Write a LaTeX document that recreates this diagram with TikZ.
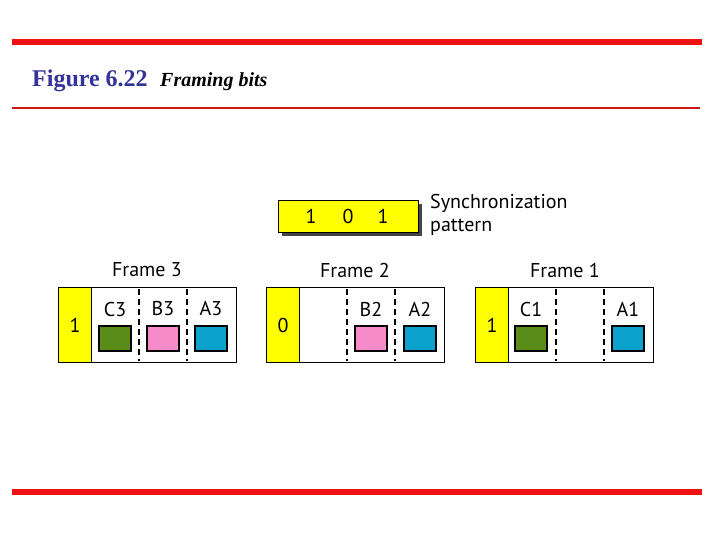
\documentclass[tikz,border=0pt]{standalone}
\usepackage{fontspec}
\setmainfont{Liberation Serif}
\newfontfamily\fbsans{PT Sans}
\usetikzlibrary{positioning}
\definecolor{fbred}{HTML}{EE1111}
\definecolor{fbdarkred}{HTML}{CC1A1A}
\definecolor{fbtitle}{HTML}{333399}
\definecolor{fbyellow}{HTML}{FFFF00}
\definecolor{fbgreen}{HTML}{5A8C1A}
\definecolor{fbpink}{HTML}{F78AC8}
\definecolor{fbblue}{HTML}{0BA2CE}
\definecolor{fbshadow}{HTML}{444444}
\tikzset{
  fbframe/.style={draw, line width=1.3pt, minimum width=178pt,
    minimum height=75pt, inner sep=0pt, anchor=north west},
  fbflag/.style={draw, fill=fbyellow, line width=1.3pt, minimum width=33pt,
    minimum height=75pt, inner sep=0pt, anchor=north west,
    font=\fbsans\fontsize{20}{23}\selectfont},
  fbslot/.style={draw, line width=1.2pt, minimum width=32pt,
    minimum height=25pt, inner sep=0pt},
  fblabel/.style={font=\fbsans\fontsize{20}{23}\selectfont, inner sep=0pt},
  fbsep/.style={line width=1.6pt, dash pattern=on 6pt off 4pt},
}
\begin{document}
\begin{tikzpicture}[x=1pt, y=-1pt]
\useasboundingbox (0,0) rectangle (720,540);

% Rules and caption.
\fill[fbred] (12,39) rectangle (702,45);
\fill[fbdarkred] (12,107.5) rectangle (700,109.5);
\fill[fbred] (12,489) rectangle (702,495);
\node[anchor=base west, inner sep=0pt, text=fbtitle,
      font=\bfseries\fontsize{24}{28}\selectfont] (fignum) at (32,87)
  {Figure 6.22};
\node[anchor=base west, inner sep=0pt,
      font=\bfseries\itshape\fontsize{20}{24}\selectfont] (figname)
  at (160,87) {Framing bits};

% Synchronization pattern.
\fill[fbshadow] (282,204) rectangle (422,236);
\node[draw, fill=fbyellow, line width=1.3pt, minimum width=140pt,
      minimum height=32pt, inner sep=0pt, anchor=north west] (sync)
  at (278,200) {};
\node[fblabel] (s1) at (311,216) {1};
\node[fblabel] (s2) at (348,216) {0};
\node[fblabel] (s3) at (383,216) {1};
\node[fblabel, anchor=west, align=left] (synctext) at (430,215)
  {Synchronization\\pattern};

% Frame 3.
\node[fbframe] (f3) at (58,287) {};
\node[fbflag] (f3flag) at (58,287) {1};
\node[fblabel] (f3title) at (147,270) {Frame 3};
\draw[fbsep] (139,289) -- (139,361);
\draw[fbsep] (187,289) -- (187,361);
\node[fblabel] (c3) at (115,309) {C3};
\node[fblabel] (b3) at (163,309) {B3};
\node[fblabel] (a3) at (211,309) {A3};
\node[fbslot, fill=fbgreen, below=9pt of c3] (c3box) {};
\node[fbslot, fill=fbpink, below=9pt of b3] (b3box) {};
\node[fbslot, fill=fbblue, below=9pt of a3] (a3box) {};

% Frame 2.
\node[fbframe] (f2) at (266,287) {};
\node[fbflag] (f2flag) at (266,287) {0};
\node[fblabel] (f2title) at (355,270) {Frame 2};
\draw[fbsep] (347,289) -- (347,361);
\draw[fbsep] (395,289) -- (395,361);
\node[fblabel] (b2) at (371,309) {B2};
\node[fblabel] (a2) at (420,309) {A2};
\node[fbslot, fill=fbpink, below=9pt of b2] (b2box) {};
\node[fbslot, fill=fbblue, below=9pt of a2] (a2box) {};

% Frame 1.
\node[fbframe] (f1) at (475,287) {};
\node[fbflag] (f1flag) at (475,287) {1};
\node[fblabel] (f1title) at (565,270) {Frame 1};
\draw[fbsep] (556,289) -- (556,361);
\draw[fbsep] (604,289) -- (604,361);
\node[fblabel] (c1) at (531,309) {C1};
\node[fblabel] (a1) at (628,309) {A1};
\node[fbslot, fill=fbgreen, below=9pt of c1] (c1box) {};
\node[fbslot, fill=fbblue, below=9pt of a1] (a1box) {};

\end{tikzpicture}
\end{document}
